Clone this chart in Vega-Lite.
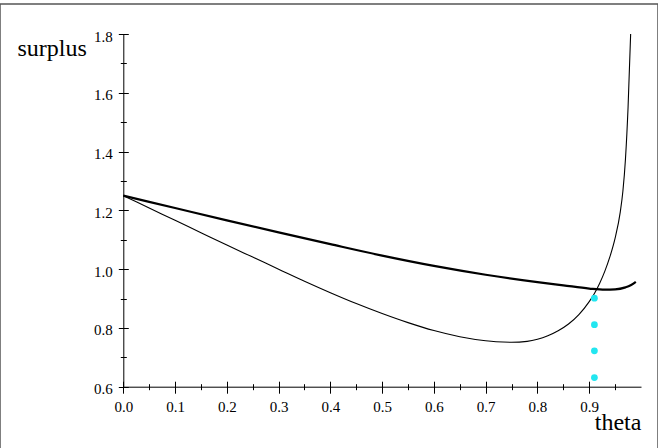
{
  "$schema": "https://vega.github.io/schema/vega-lite/v6.json",
  "width": 658,
  "height": 446,
  "autosize": {"type": "none"},
  "padding": {"left": 0, "top": 4, "right": 0, "bottom": 0},
  "background": "white",
  "config": {
    "view": {"stroke": "#555555", "strokeWidth": 1.5},
    "axis": {
      "labelFont": "Liberation Serif",
      "labelFontSize": 15,
      "labelColor": "black",
      "titleFont": "Liberation Serif",
      "titleFontSize": 24,
      "titleFontWeight": "normal",
      "titleColor": "black",
      "tickColor": "black",
      "tickWidth": 1,
      "domainColor": "black",
      "domainWidth": 1,
      "grid": false,
      "labelFlush": false,
      "labelOverlap": false
    }
  },
  "datasets": {
    "thick": [
      {"theta": 0.0, "surplus": 1.25},
      {"theta": 0.1, "surplus": 1.208},
      {"theta": 0.2, "surplus": 1.166},
      {"theta": 0.3, "surplus": 1.125},
      {"theta": 0.4, "surplus": 1.085},
      {"theta": 0.5, "surplus": 1.046},
      {"theta": 0.6, "surplus": 1.011},
      {"theta": 0.7, "surplus": 0.981},
      {"theta": 0.8, "surplus": 0.956},
      {"theta": 0.85, "surplus": 0.945},
      {"theta": 0.9, "surplus": 0.934},
      {"theta": 0.93, "surplus": 0.930},
      {"theta": 0.95, "surplus": 0.931},
      {"theta": 0.97, "surplus": 0.938},
      {"theta": 0.98, "surplus": 0.945},
      {"theta": 0.99, "surplus": 0.957}
    ],
    "thin": [
      {"theta": 0.0, "surplus": 1.25},
      {"theta": 0.05, "surplus": 1.208},
      {"theta": 0.1, "surplus": 1.166},
      {"theta": 0.15, "surplus": 1.124},
      {"theta": 0.2, "surplus": 1.082},
      {"theta": 0.25, "surplus": 1.041},
      {"theta": 0.3, "surplus": 1.0},
      {"theta": 0.35, "surplus": 0.959},
      {"theta": 0.4, "surplus": 0.92},
      {"theta": 0.45, "surplus": 0.883},
      {"theta": 0.5, "surplus": 0.849},
      {"theta": 0.55, "surplus": 0.818},
      {"theta": 0.6, "surplus": 0.791},
      {"theta": 0.65, "surplus": 0.770},
      {"theta": 0.7, "surplus": 0.7563},
      {"theta": 0.72, "surplus": 0.7531},
      {"theta": 0.75, "surplus": 0.7513},
      {"theta": 0.78, "surplus": 0.7543},
      {"theta": 0.8, "surplus": 0.7613},
      {"theta": 0.82, "surplus": 0.7733},
      {"theta": 0.84, "surplus": 0.7903},
      {"theta": 0.86, "surplus": 0.8133},
      {"theta": 0.88, "surplus": 0.8453},
      {"theta": 0.9, "surplus": 0.8893},
      {"theta": 0.91, "surplus": 0.9173},
      {"theta": 0.92, "surplus": 0.9513},
      {"theta": 0.93, "surplus": 0.9923},
      {"theta": 0.94, "surplus": 1.0423},
      {"theta": 0.95, "surplus": 1.1053},
      {"theta": 0.96, "surplus": 1.195},
      {"theta": 0.965, "surplus": 1.265},
      {"theta": 0.97, "surplus": 1.375},
      {"theta": 0.975, "surplus": 1.55},
      {"theta": 0.98, "surplus": 1.8}
    ],
    "dots": [
      {"theta": 0.91, "surplus": 0.901},
      {"theta": 0.91, "surplus": 0.811},
      {"theta": 0.91, "surplus": 0.722},
      {"theta": 0.91, "surplus": 0.631}
    ]
  },
  "layer": [
    {
      "data": {"name": "thick"},
      "mark": {"type": "line", "color": "black", "strokeWidth": 2.2, "interpolate": "monotone"},
      "encoding": {
        "x": {
          "field": "theta", "type": "quantitative",
          "scale": {"domain": [0, 1], "range": [123.3, 641], "nice": false, "zero": false},
          "axis": {"orient": "bottom", "offset": -68.8, "values": [0, 0.1, 0.2, 0.3, 0.4, 0.5, 0.6, 0.7, 0.8, 0.9], "format": ".1f", "domain": false, "tickSize": 12, "labelPadding": 5.8, "title": null}
        },
        "y": {
          "field": "surplus", "type": "quantitative",
          "scale": {"domain": [0.6, 1.8], "range": [382.7, 30], "nice": false, "zero": false},
          "axis": {"orient": "left", "offset": -128.3, "values": [0.6, 0.8, 1.0, 1.2, 1.4, 1.6, 1.8], "format": ".1f", "domain": false, "tickSize": 10, "labelPadding": 6, "labelOffset": 2, "title": null}
        }
      }
    },
    {
      "data": {"name": "thin"},
      "mark": {"type": "line", "color": "black", "strokeWidth": 1.1, "interpolate": "monotone"},
      "encoding": {
        "x": {
          "field": "theta", "type": "quantitative",
          "scale": {"domain": [0, 1], "range": [123.3, 641], "nice": false, "zero": false},
          "axis": {"orient": "bottom", "offset": -66.3, "values": [0.05, 0.15, 0.25, 0.35, 0.45, 0.55, 0.65, 0.75, 0.85, 0.95], "domain": false, "tickSize": 6, "labels": false, "title": null}
        },
        "y": {
          "field": "surplus", "type": "quantitative",
          "scale": {"domain": [0.6, 1.8], "range": [382.7, 30], "nice": false, "zero": false},
          "axis": {"orient": "left", "offset": -126.3, "values": [0.7, 0.9, 1.1, 1.3, 1.5, 1.7], "domain": false, "tickSize": 6, "labels": false, "title": null}
        }
      }
    },
    {
      "data": {"name": "dots"},
      "mark": {"type": "circle", "color": "#22e6f0", "opacity": 1, "size": 46},
      "encoding": {
        "x": {
          "field": "theta", "type": "quantitative",
          "scale": {"domain": [0, 1], "range": [123.3, 641], "nice": false, "zero": false},
          "axis": {"orient": "bottom", "offset": -63.3, "ticks": false, "labels": false, "domain": true, "title": "theta", "titleX": 594.3, "titleY": 43, "titleAlign": "left", "titleBaseline": "alphabetic", "titleAngle": 0}
        },
        "y": {
          "field": "surplus", "type": "quantitative",
          "scale": {"domain": [0.6, 1.8], "range": [382.7, 30], "nice": false, "zero": false},
          "axis": {"orient": "left", "offset": -123.3, "ticks": false, "labels": false, "domain": true, "title": "surplus", "titleX": -106.3, "titleY": 51, "titleAlign": "left", "titleBaseline": "alphabetic", "titleAngle": 0}
        }
      }
    }
  ],
  "resolve": {"axis": {"x": "independent", "y": "independent"}}
}
